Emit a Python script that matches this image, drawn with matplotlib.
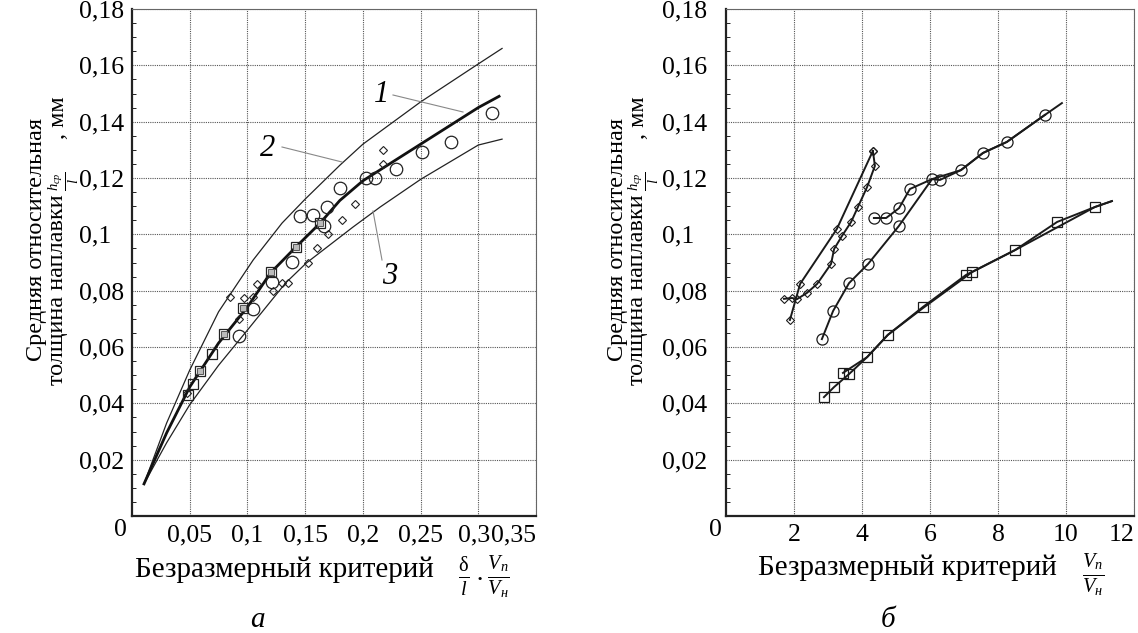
import matplotlib
matplotlib.use("Agg")
import matplotlib.pyplot as plt
import matplotlib.transforms as mtransforms
import numpy as np

plt.rcParams['font.family'] = ['Liberation Serif', 'DejaVu Serif']
plt.rcParams['mathtext.fontset'] = 'custom'
plt.rcParams['mathtext.rm'] = 'Liberation Serif'
plt.rcParams['mathtext.it'] = 'Liberation Serif:italic'
plt.rcParams['mathtext.bf'] = 'Liberation Serif:bold'

# ---------------- panel a data ----------------
a_xticks = [0.05, 0.1, 0.15, 0.2, 0.25, 0.3, 0.35]
a_xticklabels = ['0,05', '0,1', '0,15', '0,2', '0,25', '0,3', '0,35']
yticks = [0.02, 0.04, 0.06, 0.08, 0.1, 0.12, 0.14, 0.16, 0.18]
yticklabels = ['0,02', '0,04', '0,06', '0,08', '0,1', '0,12', '0,14', '0,16', '0,18']

curve1_x = [0.0104, 0.03, 0.05, 0.075, 0.1, 0.12, 0.142, 0.163, 0.18, 0.2, 0.25, 0.3, 0.318]
curve1_y = [0.0114, 0.0295, 0.0458, 0.0614, 0.0742, 0.0863, 0.0955, 0.104, 0.112, 0.119, 0.132, 0.145, 0.149]
curve2_x = [0.0104, 0.03, 0.05, 0.075, 0.105, 0.13, 0.15, 0.18, 0.2, 0.25, 0.3, 0.3206]
curve2_y = [0.0114, 0.033, 0.0518, 0.0725, 0.0909, 0.104, 0.1125, 0.1245, 0.132, 0.147, 0.1605, 0.166]
curve3_x = [0.0104, 0.03, 0.05, 0.075, 0.1, 0.133, 0.151, 0.1915, 0.215, 0.25, 0.3, 0.3206]
curve3_y = [0.0114, 0.026, 0.0395, 0.0535, 0.066, 0.0827, 0.0898, 0.1026, 0.1097, 0.1195, 0.1317, 0.1338]

a_circ_x = [0.312, 0.2764, 0.251, 0.2287, 0.2105, 0.2027, 0.180, 0.169, 0.157, 0.1455, 0.166, 0.139, 0.121, 0.105, 0.0927]
a_circ_y = [0.143, 0.1328, 0.1292, 0.1232, 0.120, 0.120, 0.1164, 0.1097, 0.1069, 0.1065, 0.103, 0.0902, 0.083, 0.0735, 0.0639]
a_diam_x = [0.2175, 0.2175, 0.193, 0.182, 0.170, 0.160, 0.1525, 0.135, 0.130, 0.122, 0.108, 0.0849, 0.097, 0.105, 0.0927, 0.0476]
a_diam_y = [0.130, 0.125, 0.1108, 0.105, 0.1001, 0.095, 0.090, 0.0827, 0.0827, 0.0799, 0.0824, 0.0778, 0.0774, 0.0777, 0.070, 0.0437]
a_sq_x = [0.1204, 0.096, 0.0797, 0.0693, 0.0589, 0.0528, 0.0485, 0.142, 0.163]
a_sq_y = [0.0866, 0.0738, 0.0646, 0.0575, 0.0515, 0.0469, 0.043, 0.0955, 0.104]
a_sq_inner = [True, True, True, False, True, False, False, True, True]

# ---------------- panel b data ----------------
b_xticks = [2, 4, 6, 8, 10, 12]
b_xticklabels = ['2', '4', '6', '8', '10', '12']

dA_x = [1.88, 2.18, 3.26, 4.32]
dA_y = [0.0696, 0.0824, 0.1019, 0.1296]
dB_x = [1.706, 1.94, 2.09, 2.38, 2.68, 3.09, 3.18, 3.41, 3.68, 3.88, 4.15, 4.38, 4.32]
dB_y = [0.0771, 0.0774, 0.077, 0.0792, 0.0824, 0.0895, 0.0948, 0.0994, 0.1044, 0.1097, 0.1168, 0.1243, 0.1296]

cA_x = [4.35, 4.71, 5.09, 5.41, 6.06, 6.29, 6.91, 7.56, 8.26, 9.38]
cA_y = [0.1058, 0.1058, 0.1093, 0.1161, 0.1196, 0.1193, 0.1228, 0.1289, 0.1328, 0.1424]
cB_x = [2.82, 3.15, 3.62, 4.18, 5.08, 6.06, 6.91, 7.56, 8.26, 9.38, 9.88]
cB_y = [0.0628, 0.0728, 0.0827, 0.0895, 0.1029, 0.1196, 0.1228, 0.1289, 0.1328, 0.1424, 0.1466]
c_mark_x = [2.82, 3.15, 3.62, 4.18, 5.08, 4.35, 4.71, 5.09, 5.41, 6.06, 6.29, 6.91, 7.56, 8.26, 9.38]
c_mark_y = [0.0628, 0.0728, 0.0827, 0.0895, 0.1029, 0.1058, 0.1058, 0.1093, 0.1161, 0.1196, 0.1193, 0.1228, 0.1289, 0.1328, 0.1424]

sA_x = [2.88, 3.18, 3.62, 4.15, 4.76, 5.79, 7.06, 8.50, 9.74, 10.85, 11.35]
sA_y = [0.0422, 0.0458, 0.0504, 0.0564, 0.0643, 0.0742, 0.0856, 0.0944, 0.1044, 0.1097, 0.1118]
sB_x = [3.44, 4.15, 4.76, 5.79, 7.24, 8.50, 10.85, 11.35]
sB_y = [0.0508, 0.0564, 0.0643, 0.0738, 0.0866, 0.0944, 0.1097, 0.1118]
s_mark_x = [2.88, 3.18, 3.44, 3.62, 4.15, 4.76, 5.79, 7.06, 7.24, 8.50, 9.74, 10.85]
s_mark_y = [0.0422, 0.0458, 0.0508, 0.0504, 0.0564, 0.0643, 0.0742, 0.0856, 0.0866, 0.0944, 0.1044, 0.1097]

W, H = 1138, 633
fig = plt.figure(figsize=(W / 100, H / 100), dpi=100)

def px(x, y):
    return x / W, 1 - y / H

TICK_FS = 18.5
LABEL_FS = 21
YLAB_FS = 17.5

def style_axes(ax, xlim, xticks, xticklabels, ypad):
    ax.set_xlim(*xlim)
    ax.set_ylim(0, 0.18)
    ax.set_xticks(xticks)
    ax.set_xticklabels(xticklabels, fontsize=TICK_FS)
    ax.set_yticks(yticks)
    ax.set_yticklabels(yticklabels, fontsize=TICK_FS)
    for lab in ax.get_yticklabels():
        lab.set_ha('left')
    ax.get_xticklabels()[-1].set_ha('right')
    ax.tick_params(axis='y', which='major', length=0, pad=ypad)
    ax.tick_params(axis='x', which='major', length=0, pad=6)
    ax.set_yticks(np.arange(0, 0.18, 0.005), minor=True)
    ax.tick_params(axis='y', which='minor', length=3, direction='in', width=0.6)
    ax.grid(True, which='major', color='#555555', linestyle=(0, (1, 1)), linewidth=0.8)
    for s in ['left', 'bottom']:
        ax.spines[s].set_linewidth(1.6)
        ax.spines[s].set_color('#222222')
    for s in ['top', 'right']:
        ax.spines[s].set_linewidth(0.8)
        ax.spines[s].set_color('#666666')
        ax.spines[s].set_linestyle((0, (1, 1)))
    ax.set_axisbelow(True)

# ---------------- panel a ----------------
axa = fig.add_axes([132 / W, 1 - 516 / H, (536 - 132) / W, (516 - 9) / H])
style_axes(axa, (0, 0.35), a_xticks, a_xticklabels, ypad=38)
lab03 = axa.get_xticklabels()[-2]
lab03.set_transform(lab03.get_transform() + mtransforms.ScaledTranslation(-4 / 100, 0, fig.dpi_scale_trans))
axa.plot(curve2_x, curve2_y, color='#222222', lw=0.9)
axa.plot(curve3_x, curve3_y, color='#222222', lw=0.9)
axa.plot(curve1_x, curve1_y, color='#111111', lw=2.0)
axa.plot(a_circ_x, a_circ_y, 'o', ms=9, mfc='none', mec='#222222', mew=0.9)
axa.plot(a_diam_x, a_diam_y, 'D', ms=4.5, mfc='none', mec='#222222', mew=0.8)
axa.plot(a_sq_x, a_sq_y, 's', ms=7.5, mfc='none', mec='#222222', mew=0.9)
inner_x = [x for x, f in zip(a_sq_x, a_sq_inner) if f]
inner_y = [y for y, f in zip(a_sq_y, a_sq_inner) if f]
axa.plot(inner_x, inner_y, 's', ms=5, mfc='#bbbbbb', mec='#555555', mew=0.7)

# annotations (leader lines in pixel space)
def leader(x0, y0, x1, y1):
    fig.add_artist(plt.Line2D([x0 / W, x1 / W], [1 - y0 / H, 1 - y1 / H],
                              color='#888888', lw=0.8))

leader(393, 95, 463, 112)
leader(282, 147, 342, 162)
leader(373, 211, 382, 260)
fig.text(*px(382, 95), '1', fontsize=22, style='italic', ha='center', va='center')
fig.text(*px(268, 148), '2', fontsize=22, style='italic', ha='center', va='center')
fig.text(*px(390, 277), '3', fontsize=22, style='italic', ha='center', va='center')

# ---------------- panel b ----------------
axb = fig.add_axes([726 / W, 1 - 516 / H, (1134 - 726) / W, (516 - 9) / H])
style_axes(axb, (0, 12), b_xticks, b_xticklabels, ypad=46)
lc = '#1a1a1a'
axb.plot(dA_x, dA_y, color=lc, lw=1.4)
axb.plot(dB_x, dB_y, color=lc, lw=1.4)
axb.plot(dB_x + dA_x, dB_y + dA_y, 'D', ms=4, mfc='none', mec=lc, mew=0.8, ls='none')
axb.plot(cA_x, cA_y, color=lc, lw=1.4)
axb.plot(cB_x, cB_y, color=lc, lw=1.4)
axb.plot(c_mark_x, c_mark_y, 'o', ms=8, mfc='none', mec=lc, mew=0.9, ls='none')
axb.plot(sA_x, sA_y, color=lc, lw=1.4)
axb.plot(sB_x, sB_y, color=lc, lw=1.4)
axb.plot(s_mark_x, s_mark_y, 's', ms=6.5, mfc='none', mec=lc, mew=0.9, ls='none')

# origin labels
fig.text(*px(120, 530), '0', fontsize=TICK_FS, ha='center', va='center')
fig.text(*px(715, 530), '0', fontsize=TICK_FS, ha='center', va='center')

# y labels
for x0 in (0, 580):
    fig.text(*px(x0 + 37, 240), 'Средняя относительная', fontsize=YLAB_FS,
             rotation=90, ha='center', va='center')
    fig.text(*px(x0 + 57, 290), 'толщина наплавки', fontsize=YLAB_FS,
             rotation=90, ha='center', va='center')
    fig.text(*px(x0 + 64, 181), r'$\frac{h_{ср}}{l}$', fontsize=15,
             rotation=90, ha='center', va='center')
    fig.text(*px(x0 + 58, 118), ', мм', fontsize=YLAB_FS,
             rotation=90, ha='center', va='center')

# x labels
fig.text(*px(135, 570), 'Безразмерный критерий', fontsize=LABEL_FS, ha='left', va='center')
fig.text(*px(458, 577), r'$\frac{\mathrm{δ}}{l}\cdot\frac{V_{п}}{V_{н}}$', fontsize=LABEL_FS,
         ha='left', va='center')
fig.text(*px(758, 568), 'Безразмерный критерий', fontsize=LABEL_FS, ha='left', va='center')
fig.text(*px(1082, 575), r'$\frac{V_{п}}{V_{н}}$', fontsize=LABEL_FS, ha='left', va='center')

fig.text(*px(257, 620), 'а', fontsize=LABEL_FS, style='italic', ha='center', va='center')
fig.text(*px(888, 620), 'б', fontsize=LABEL_FS, style='italic', ha='center', va='center')

fig.savefig('out.png', dpi=100)
